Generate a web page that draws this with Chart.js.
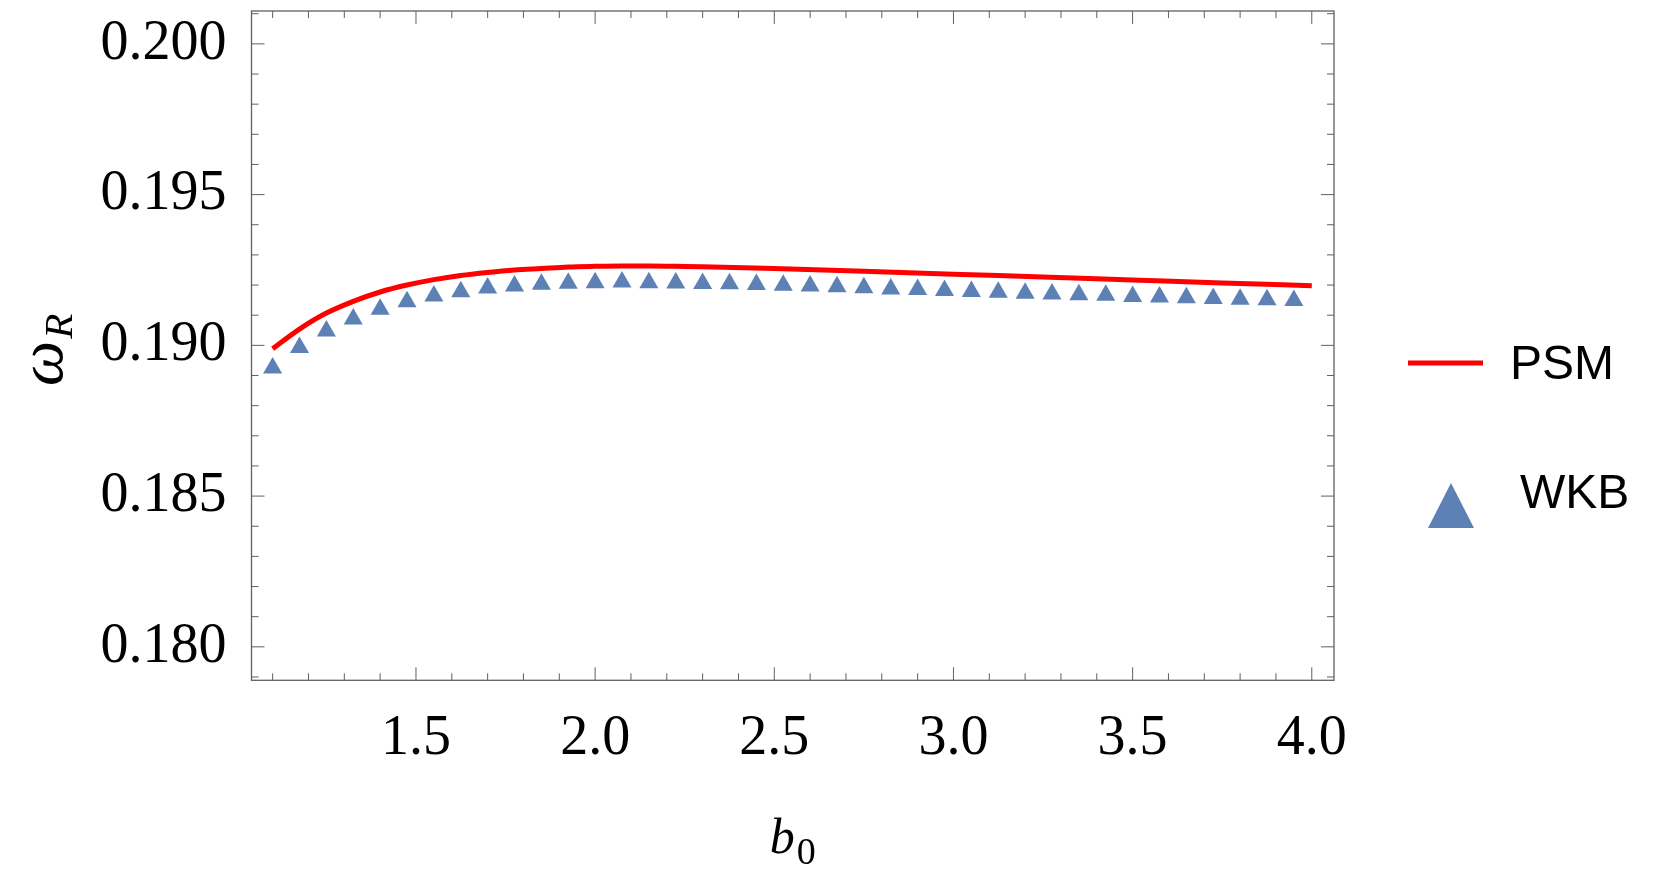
<!DOCTYPE html>
<html>
<head>
<meta charset="utf-8">
<script src="https://cdn.jsdelivr.net/npm/chart.js@4.4.1/dist/chart.umd.min.js"></script>
<style>
  html, body { margin: 0; padding: 0; background: #fff; }
  #chart { display: block; }
</style>
</head>
<body>
<canvas id="chart" width="1661" height="880"></canvas>
<script>
// PSM curve
const psmB = [1.1, 1.175, 1.25, 1.325, 1.4, 1.475, 1.55, 1.625, 1.7, 1.775, 1.85, 1.925,
              2.0, 2.075, 2.15, 2.225, 2.3, 2.5, 2.75, 3.0, 3.25, 3.5, 3.75, 4.0];
const psmOmega = [0.18989, 0.19054, 0.19107, 0.19146, 0.19177, 0.19200, 0.19218, 0.19232,
                  0.19242, 0.19250, 0.19255, 0.19260, 0.19262, 0.19263, 0.19263, 0.19262,
                  0.19261, 0.19255, 0.19246, 0.19236, 0.19227, 0.19217, 0.19207, 0.19198];

// WKB points
const wkbB = [1.1, 1.175, 1.25, 1.325, 1.4, 1.475, 1.55, 1.625, 1.7, 1.775, 1.85, 1.925,
              2.0, 2.075, 2.15, 2.225, 2.3, 2.375, 2.45, 2.525, 2.6, 2.675, 2.75, 2.825,
              2.9, 2.975, 3.05, 3.125, 3.2, 3.275, 3.35, 3.425, 3.5, 3.575, 3.65, 3.725,
              3.8, 3.875, 3.95];
const wkbOmega = [0.18925, 0.18993, 0.19048, 0.19087, 0.19120, 0.19145, 0.19164, 0.19178,
                  0.19190, 0.19197, 0.19203, 0.19206, 0.19208, 0.19210, 0.19208, 0.19207,
                  0.19205, 0.19204, 0.19202, 0.19199, 0.19197, 0.19194, 0.19191, 0.19187,
                  0.19185, 0.19182, 0.19179, 0.19176, 0.19173, 0.19170, 0.19168, 0.19166,
                  0.19162, 0.19160, 0.19158, 0.19155, 0.19153, 0.19151, 0.19149];

// tick labels
const xTicks = [1.5, 2.0, 2.5, 3.0, 3.5, 4.0];
const yTicks = [0.180, 0.185, 0.190, 0.195, 0.200];
const seriesNames = ['PSM', 'WKB'];

const RED = '#ff0000';
const BLUE = '#5e81b5';
const FRAME = '#606060';

// Mathematica-style frame with inward ticks on all four sides + axis titles + legend
const framePlugin = {
    id: 'frame',
    afterDraw(chart) {
        const { ctx, chartArea: a, scales: { x, y } } = chart;
        ctx.save();
        ctx.strokeStyle = FRAME;
        ctx.lineWidth = 1.3;
        ctx.strokeRect(a.left, a.top, a.right - a.left, a.bottom - a.top);

        ctx.lineWidth = 1;
        // x ticks every 0.1, major every 0.5
        for (let i = 11; i <= 40; i++) {
            const px = x.getPixelForValue(i / 10);
            const len = i % 5 === 0 ? 13 : 7;
            ctx.beginPath();
            ctx.moveTo(px, a.bottom); ctx.lineTo(px, a.bottom - len);
            ctx.moveTo(px, a.top); ctx.lineTo(px, a.top + len);
            ctx.stroke();
        }
        // y ticks every 0.001, major every 0.005
        for (let i = 179; i <= 201; i++) {
            const py = y.getPixelForValue(i / 1000);
            const len = i % 5 === 0 ? 13 : 7;
            ctx.beginPath();
            ctx.moveTo(a.left, py); ctx.lineTo(a.left + len, py);
            ctx.moveTo(a.right, py); ctx.lineTo(a.right - len, py);
            ctx.stroke();
        }

        // x title: b_0
        ctx.fillStyle = '#000';
        ctx.textBaseline = 'alphabetic';
        ctx.textAlign = 'left';
        const cx = (a.left + a.right) / 2;
        ctx.font = 'italic 50px "Liberation Serif", "DejaVu Serif", serif';
        const bw = ctx.measureText('b').width;
        ctx.font = '38px "Liberation Serif", "DejaVu Serif", serif';
        const zw = ctx.measureText('0').width;
        const sx = cx - (bw + zw + 2) / 2;
        ctx.font = 'italic 50px "Liberation Serif", "DejaVu Serif", serif';
        ctx.fillText('b', sx, 853);
        ctx.font = '38px "Liberation Serif", "DejaVu Serif", serif';
        ctx.fillText('0', sx + bw + 2, 864);

        // y title: omega_R, rotated
        ctx.save();
        ctx.translate(62, 386);
        ctx.rotate(-Math.PI / 2);
        ctx.font = 'italic 64px "Liberation Serif", "DejaVu Serif", serif';
        ctx.fillText('ω', 0, 0);
        const ow = ctx.measureText('ω').width;
        ctx.font = 'italic 41px "Liberation Serif", "DejaVu Serif", serif';
        ctx.fillText('R', ow + 2, 10);
        ctx.restore();

        // legend
        ctx.strokeStyle = RED;
        ctx.lineWidth = 5;
        ctx.beginPath();
        ctx.moveTo(1408, 363); ctx.lineTo(1483, 363);
        ctx.stroke();
        ctx.fillStyle = BLUE;
        ctx.beginPath();
        ctx.moveTo(1451, 483); ctx.lineTo(1474, 528); ctx.lineTo(1428, 528);
        ctx.closePath();
        ctx.fill();
        ctx.fillStyle = '#000';
        ctx.font = '48px "Liberation Sans", Arial, sans-serif';
        ctx.fillText(seriesNames[0], 1510, 379);
        ctx.fillText(seriesNames[1], 1520, 508);
        ctx.restore();
    }
};

const serifTicks = { family: '"Liberation Serif", "DejaVu Serif", serif', size: 56 };

new Chart(document.getElementById('chart').getContext('2d'), {
    type: 'scatter',
    data: {
        datasets: [{
            label: seriesNames[0],
            data: psmB.map((b, i) => ({ x: b, y: psmOmega[i] })),
            showLine: true,
            borderColor: RED,
            borderWidth: 5,
            borderCapStyle: 'butt',
            pointRadius: 0,
            cubicInterpolationMode: 'monotone',
            order: 1
        }, {
            label: seriesNames[1],
            data: wkbB.map((b, i) => ({ x: b, y: wkbOmega[i] })),
            showLine: false,
            pointStyle: 'triangle',
            pointRadius: 11,
            pointBackgroundColor: BLUE,
            pointBorderColor: BLUE,
            pointBorderWidth: 0,
            order: 2
        }]
    },
    options: {
        responsive: false,
        animation: false,
        devicePixelRatio: 1,
        layout: { padding: { left: 0, right: 327, top: 10.7, bottom: 0 } },
        plugins: {
            legend: { display: false },
            tooltip: { enabled: false }
        },
        scales: {
            x: {
                type: 'linear',
                min: 1.041,
                max: 4.062,
                grid: { display: false, drawTicks: false },
                border: { display: false },
                afterBuildTicks(scale) {
                    scale.ticks = xTicks.map(v => ({ value: v }));
                },
                afterFit(scale) {
                    scale.height = 199.7;
                    scale.paddingLeft = 0;
                    scale.paddingRight = 0;
                },
                ticks: {
                    padding: 25,
                    color: '#000',
                    font: serifTicks,
                    maxRotation: 0,
                    autoSkip: false,
                    callback: v => v.toFixed(1)
                }
            },
            y: {
                type: 'linear',
                min: 0.17889,
                max: 0.20109,
                grid: { display: false, drawTicks: false },
                border: { display: false },
                afterBuildTicks(scale) {
                    scale.ticks = yTicks.map(v => ({ value: v }));
                },
                afterFit(scale) {
                    scale.width = 251.5;
                    scale.paddingTop = 0;
                    scale.paddingBottom = 0;
                },
                ticks: {
                    padding: 25,
                    color: '#000',
                    font: serifTicks,
                    autoSkip: false,
                    callback: v => v.toFixed(3)
                }
            }
        }
    },
    plugins: [framePlugin]
});
</script>
</body>
</html>
